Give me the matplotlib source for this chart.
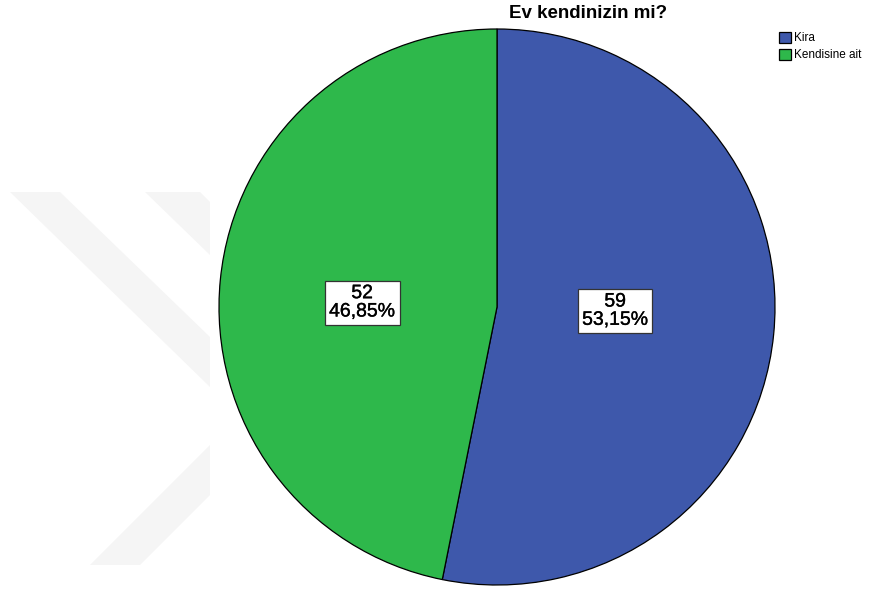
import matplotlib.pyplot as plt
import matplotlib.patheffects as pe
from matplotlib.patches import Polygon

categories = ["Kira", "Kendisine ait"]
counts = [59, 52]
colors = ["#3e58ab", "#2eb84b"]
title = "Ev kendinizin mi?"

W, H = 869, 589
fig = plt.figure(figsize=(W / 100, H / 100), dpi=100)
plt.rcParams['font.family'] = ['Liberation Sans', 'DejaVu Sans']

# faint background watermark (pixel coords -> figure coords)
def px(pts):
    return [(x / W, 1 - y / H) for x, y in pts]

for shape in [
    [(10, 192), (60, 192), (210, 337), (210, 387)],
    [(145, 192), (200, 192), (210, 202), (210, 255)],
    [(210, 445), (210, 495), (140, 565), (90, 565)],
]:
    fig.patches.append(Polygon(px(shape), closed=True, transform=fig.transFigure,
                               facecolor="#f5f5f5", edgecolor="none", zorder=0))

# pie centre at (497, 307) px, radius ~278 px
cx, cy, r = 497, 307, 278
ax = fig.add_axes([(cx - r) / W, (H - cy - r) / H, 2 * r / W, 2 * r / H])
ax.set_zorder(1)
total = sum(counts)

def fmt(p):
    n = int(round(p * total / 100))
    return f"{n}\n{p:.2f}%".replace(".", ",")

wedges, texts, autotexts = ax.pie(
    counts, colors=colors, startangle=90, counterclock=False,
    autopct=fmt, pctdistance=0.45,
    wedgeprops=dict(edgecolor="black", linewidth=0.9),
    textprops=dict(fontsize=14, color="black"))
# label spots as placed in the original
label_pos = [(0.425, -0.015), (-0.485, 0.015)]
for t, p in zip(autotexts, label_pos):
    t.set_position(p)
    t.set_linespacing(1.1)
    t.set_path_effects([pe.withStroke(linewidth=0.25, foreground="black")])
    t.set_bbox(dict(facecolor="white", edgecolor="#333333", linewidth=0.9,
                    boxstyle="square,pad=0.22"))
ax.set_xlim(-1, 1)
ax.set_ylim(-1, 1)
ax.set_aspect("equal")

fig.text(588 / W, 1 - 13 / H, title, ha="center", va="center", fontsize=13.5, fontweight="bold")

leg = fig.legend(wedges, categories, loc="upper left", bbox_to_anchor=(779 / W, 1 - 32 / H),
                 frameon=False, fontsize=8.5, handlelength=1.0, handleheight=1.0,
                 handletextpad=0.25, labelspacing=0.4, borderaxespad=0, borderpad=0)

fig.savefig("out.png", dpi=100, facecolor="white")
